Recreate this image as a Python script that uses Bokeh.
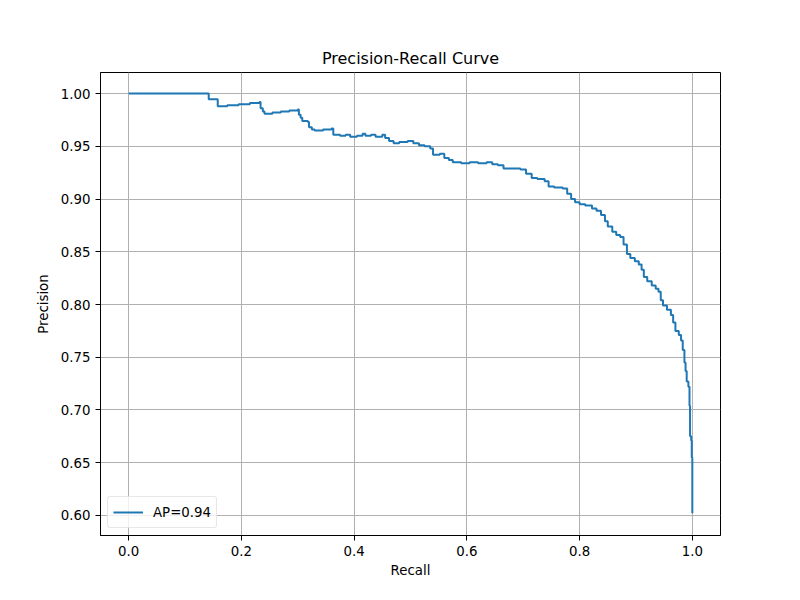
from bokeh.plotting import figure
from bokeh.models import FixedTicker, NumeralTickFormatter, Range1d, Legend, LegendItem
from bokeh.embed import file_html
from bokeh.resources import INLINE

recall = [0.0, 0.142, 0.158, 0.175, 0.195, 0.215, 0.232, 0.234, 0.238, 0.241, 0.255, 0.270, 0.285,
          0.300, 0.302, 0.305, 0.308, 0.318, 0.320, 0.325, 0.330, 0.345, 0.360, 0.363, 0.375, 0.385,
          0.393, 0.405, 0.415, 0.420, 0.430, 0.438, 0.450, 0.455, 0.462, 0.470, 0.480, 0.495, 0.505,
          0.515, 0.525, 0.535, 0.540, 0.552, 0.560, 0.568, 0.575, 0.590, 0.605, 0.620, 0.635, 0.645,
          0.655, 0.665, 0.680, 0.695, 0.705, 0.715, 0.725, 0.738, 0.745, 0.755, 0.770, 0.778, 0.785,
          0.792, 0.800, 0.810, 0.822, 0.830, 0.838, 0.845, 0.850, 0.858, 0.865, 0.872, 0.878, 0.884,
          0.890, 0.898, 0.905, 0.910, 0.914, 0.920, 0.928, 0.935, 0.940, 0.944, 0.948, 0.955, 0.962,
          0.966, 0.970, 0.976, 0.980, 0.983, 0.986, 0.988, 0.990, 0.993, 0.995, 0.996, 0.998, 0.999,
          1.000]
precision = [1.000, 0.9946, 0.988, 0.989, 0.990, 0.991, 0.992, 0.986, 0.983, 0.981, 0.982, 0.983, 0.984,
             0.985, 0.980, 0.977, 0.974, 0.973, 0.968, 0.966, 0.965, 0.966, 0.967, 0.961, 0.960, 0.961,
             0.959, 0.960, 0.962, 0.960, 0.961, 0.959, 0.961, 0.958, 0.955, 0.953, 0.954, 0.955, 0.953,
             0.951, 0.950, 0.948, 0.942, 0.943, 0.939, 0.937, 0.935, 0.934, 0.935, 0.934, 0.935, 0.933,
             0.932, 0.929, 0.929, 0.928, 0.924, 0.920, 0.919, 0.917, 0.912, 0.911, 0.910, 0.905, 0.900,
             0.897, 0.895, 0.894, 0.891, 0.889, 0.885, 0.879, 0.874, 0.869, 0.866, 0.864, 0.857, 0.848,
             0.844, 0.841, 0.838, 0.833, 0.826, 0.822, 0.818, 0.815, 0.812, 0.804, 0.799, 0.795, 0.790,
             0.783, 0.775, 0.771, 0.766, 0.757, 0.745, 0.737, 0.727, 0.722, 0.704, 0.675, 0.671, 0.655,
             0.602]
x_ticks = [0.0, 0.2, 0.4, 0.6, 0.8, 1.0]
y_ticks = [0.60, 0.65, 0.70, 0.75, 0.80, 0.85, 0.90, 0.95, 1.00]
legend_label = "AP=0.94"

FONT = "DejaVu Sans"

p = figure(width=800, height=600, output_backend="svg", toolbar_location=None,
           x_range=Range1d(-0.05, 1.05), y_range=Range1d(0.581, 1.02),
           min_border_left=100, min_border_right=80, min_border_top=72, min_border_bottom=65)

p.title.text = "Precision-Recall Curve"
p.title.align = "center"
p.title.text_font = FONT
p.title.text_font_size = "16px"
p.title.text_font_style = "normal"
p.title.text_color = "black"

r = p.step(recall, precision, mode="after", line_color="#1f77b4", line_width=2)

p.xaxis.axis_label = "Recall"
p.yaxis.axis_label = "Precision"
for ax in (p.xaxis[0], p.yaxis[0]):
    ax.axis_label_text_font = FONT
    ax.axis_label_text_font_size = "13.33px"
    ax.axis_label_text_font_style = "normal"
    ax.axis_label_text_color = "black"
    ax.major_label_text_font = FONT
    ax.major_label_text_font_size = "13.33px"
    ax.major_label_text_color = "black"
    ax.minor_tick_line_color = None
    ax.major_tick_out = 5
    ax.major_tick_in = 0
    ax.axis_line_color = "black"
    ax.major_tick_line_color = "black"
p.xaxis.ticker = FixedTicker(ticks=x_ticks)
p.yaxis.ticker = FixedTicker(ticks=y_ticks)
p.xaxis.formatter = NumeralTickFormatter(format="0.0")
p.yaxis.formatter = NumeralTickFormatter(format="0.00")
p.xaxis.axis_label_standoff = 4
p.yaxis.axis_label_standoff = 7

p.grid.grid_line_color = "#b0b0b0"
p.grid.grid_line_width = 1
p.outline_line_color = "black"
p.outline_line_width = 1
p.background_fill_color = "white"
p.border_fill_color = "white"

legend = Legend(items=[LegendItem(label=legend_label, renderers=[r])], location="bottom_left")
legend.label_text_font = FONT
legend.label_text_font_size = "13.33px"
legend.label_text_color = "black"
legend.border_line_color = "#d0d0d0"
legend.border_line_width = 1
legend.border_radius = 3
legend.background_fill_alpha = 0.8
legend.margin = 7
legend.padding = 5
legend.spacing = 0
legend.glyph_width = 30
legend.label_standoff = 10
p.add_layout(legend)

open("out.html", "w").write(file_html(p, INLINE))
